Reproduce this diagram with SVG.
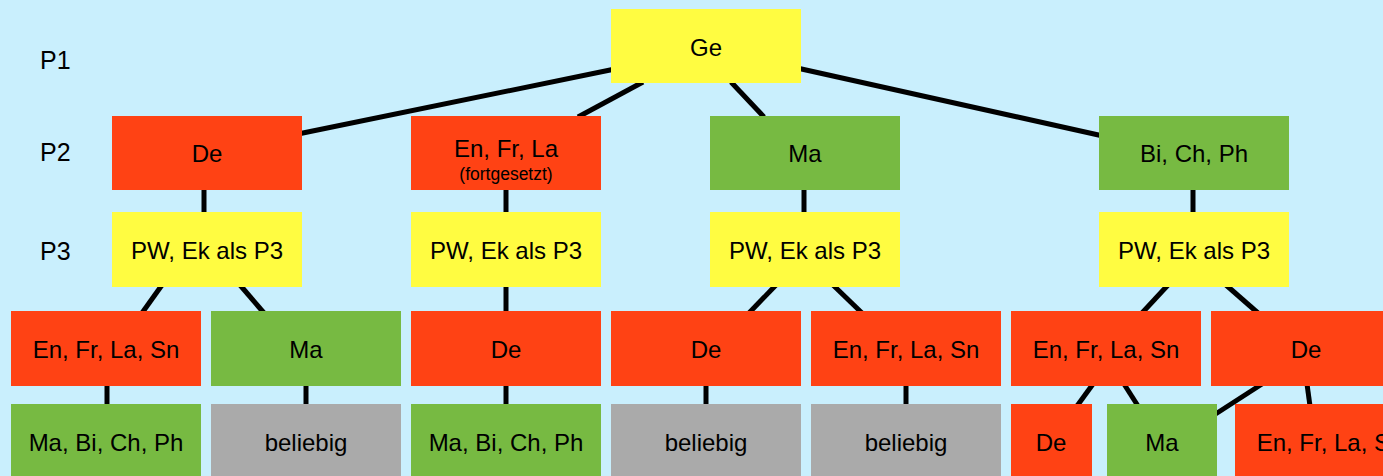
<svg xmlns="http://www.w3.org/2000/svg" width="1383" height="476" viewBox="0 0 1383 476">
<style>
.y{fill:#FFFC41}
.r{fill:#FF4214}
.g{fill:#77BA42}
.k{fill:#AAAAAA}
text{font-family:"Liberation Sans",Arial,sans-serif;font-size:24px;fill:#000;text-anchor:middle}
.p{font-size:25px;text-anchor:start}
.s{font-size:17.5px}
#connectors line{stroke:#000;stroke-width:5;stroke-linecap:butt}
</style>
<rect width="1383" height="476" fill="#C9EFFD"/>
<g id="connectors">
<line x1="615" y1="69" x2="298" y2="134"/>
<line x1="643" y1="82" x2="578" y2="117"/>
<line x1="731" y1="82" x2="764" y2="117"/>
<line x1="797" y1="68" x2="1103" y2="136"/>
<line x1="204" y1="188" x2="204" y2="214"/>
<line x1="506" y1="188" x2="506" y2="214"/>
<line x1="804" y1="188" x2="804" y2="214"/>
<line x1="1193" y1="188" x2="1193" y2="214"/>
<line x1="162" y1="285" x2="142" y2="313"/>
<line x1="240" y1="285" x2="264" y2="313"/>
<line x1="506" y1="285" x2="506" y2="313"/>
<line x1="776" y1="285" x2="749" y2="313"/>
<line x1="833" y1="285" x2="862" y2="313"/>
<line x1="1168" y1="285" x2="1142" y2="313"/>
<line x1="1226" y1="285" x2="1258" y2="313"/>
<line x1="107" y1="384" x2="107" y2="406"/>
<line x1="306" y1="384" x2="306" y2="406"/>
<line x1="506" y1="384" x2="506" y2="406"/>
<line x1="706" y1="384" x2="706" y2="406"/>
<line x1="906" y1="384" x2="906" y2="406"/>
<line x1="1093" y1="384" x2="1077" y2="406"/>
<line x1="1124" y1="384" x2="1138" y2="406"/>
<line x1="1262" y1="384" x2="1214" y2="415"/>
<line x1="1307" y1="384" x2="1310" y2="406"/>
</g>
<text class="p" x="40" y="69">P1</text>
<text class="p" x="40" y="161">P2</text>
<text class="p" x="40" y="260">P3</text>
<g id="ge"><rect class="y" x="611" y="9" width="190" height="74"/><text x="706" y="56">Ge</text></g>
<g id="p2-de"><rect class="r" x="112" y="116" width="190" height="74"/><text x="207" y="162">De</text></g>
<g id="p2-enfrla"><rect class="r" x="411" y="116" width="190" height="74"/><text x="506" y="157">En, Fr, La</text><text class="s" x="506" y="180">(fortgesetzt)</text></g>
<g id="p2-ma"><rect class="g" x="710" y="116" width="190" height="74"/><text x="805" y="162">Ma</text></g>
<g id="p2-bichph"><rect class="g" x="1099" y="116" width="190" height="74"/><text x="1194" y="162">Bi, Ch, Ph</text></g>
<g id="p3-1"><rect class="y" x="112" y="212" width="190" height="75"/><text x="207" y="259">PW, Ek als P3</text></g>
<g id="p3-2"><rect class="y" x="411" y="212" width="190" height="75"/><text x="506" y="259">PW, Ek als P3</text></g>
<g id="p3-3"><rect class="y" x="710" y="212" width="190" height="75"/><text x="805" y="259">PW, Ek als P3</text></g>
<g id="p3-4"><rect class="y" x="1099" y="212" width="190" height="75"/><text x="1194" y="259">PW, Ek als P3</text></g>
<g id="r4-1"><rect class="r" x="11" y="311" width="190" height="75"/><text x="106" y="358">En, Fr, La, Sn</text></g>
<g id="r4-2"><rect class="g" x="211" y="311" width="190" height="75"/><text x="306" y="358">Ma</text></g>
<g id="r4-3"><rect class="r" x="411" y="311" width="190" height="75"/><text x="506" y="358">De</text></g>
<g id="r4-4"><rect class="r" x="611" y="311" width="190" height="75"/><text x="706" y="358">De</text></g>
<g id="r4-5"><rect class="r" x="811" y="311" width="190" height="75"/><text x="906" y="358">En, Fr, La, Sn</text></g>
<g id="r4-6"><rect class="r" x="1011" y="311" width="190" height="75"/><text x="1106" y="358">En, Fr, La, Sn</text></g>
<g id="r4-7"><rect class="r" x="1211" y="311" width="190" height="75"/><text x="1306" y="358">De</text></g>
<g id="r5-1"><rect class="g" x="11" y="404" width="190" height="74"/><text x="106" y="451">Ma, Bi, Ch, Ph</text></g>
<g id="r5-2"><rect class="k" x="211" y="404" width="190" height="74"/><text x="306" y="451">beliebig</text></g>
<g id="r5-3"><rect class="g" x="411" y="404" width="190" height="74"/><text x="506" y="451">Ma, Bi, Ch, Ph</text></g>
<g id="r5-4"><rect class="k" x="611" y="404" width="190" height="74"/><text x="706" y="451">beliebig</text></g>
<g id="r5-5"><rect class="k" x="811" y="404" width="190" height="74"/><text x="906" y="451">beliebig</text></g>
<g id="r5-6"><rect class="r" x="1011" y="404" width="81" height="74"/><text x="1051" y="451">De</text></g>
<g id="r5-7"><rect class="g" x="1107" y="404" width="110" height="74"/><text x="1162" y="451">Ma</text></g>
<g id="r5-8"><rect class="r" x="1235" y="404" width="190" height="74"/><text x="1330" y="451">En, Fr, La, Sn</text></g>
</svg>
